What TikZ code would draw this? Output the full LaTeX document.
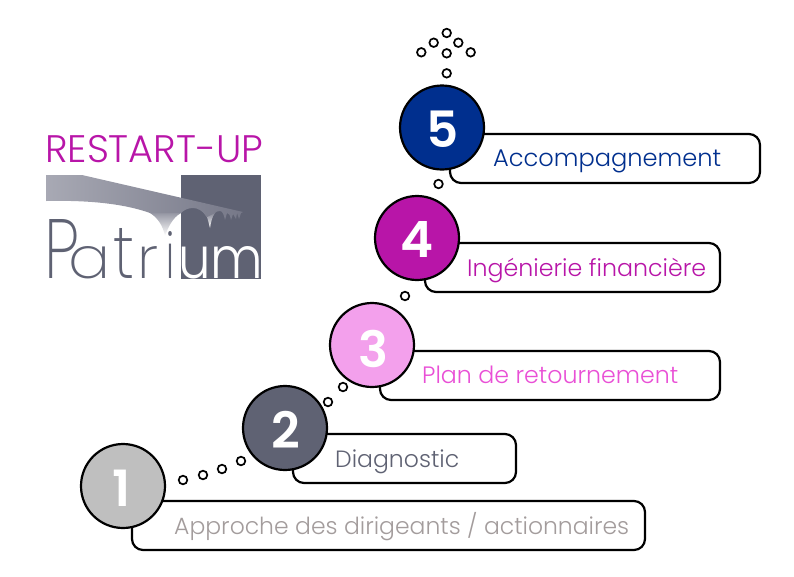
\documentclass[tikz,border=0pt]{standalone}
\usepackage{fontspec}
\usepackage{graphicx}
\setmainfont{Poppins}
\newfontfamily\lightf{Poppins Light}
\newfontfamily\thinf{Poppins ExtraLight}
\newfontfamily\semif{Poppins SemiBold}
\definecolor{navy}{HTML}{002F8E}
\definecolor{magen}{HTML}{B815A8}
\definecolor{pinkc}{HTML}{F3A0EC}
\definecolor{pinkt}{HTML}{E94FD6}
\definecolor{slate}{HTML}{5F6273}
\definecolor{greyc}{HTML}{BFBFBF}
\definecolor{greyt}{HTML}{A39C9C}
\definecolor{bridgeL}{HTML}{A8A9B4}
\definecolor{bridgeR}{HTML}{767888}
\definecolor{pier}{HTML}{7F8190}
\newcommand{\fitw}[2]{\resizebox{#1pt}{!}{#2}}
\tikzset{
 x=1pt,y=-1pt,
 stepcircle/.style={circle,draw=black,line width=2.2pt,minimum size=84pt,inner sep=0pt},
 stepdigit/.style={inner sep=0pt,text=white,font=\semif\fontsize{50}{50}\selectfont},
 stepbox/.style={draw=black,line width=2.2pt,rounded corners=11pt,fill=white},
 bubble/.style={circle,draw=black,fill=white,line width=1.7pt,minimum size=8.6pt,inner sep=0pt},
 steptext/.style={anchor=base west,inner sep=0pt,font=\lightf\fontsize{22}{22}\selectfont},
 logotext/.style={anchor=base west,inner sep=0pt},
}
\begin{document}
\begin{tikzpicture}
\useasboundingbox (0,0) rectangle (794,576);
% logo
\node[logotext,text=magen] (title) at (45,162) {\fitw{218}{\lightf RESTART-UP}};
\fill[slate] (181,175) rectangle (260.5,279);
% piers, fading to white
\shade[top color=pier,bottom color=white]
 (150,208) -- (150,213) .. controls (158,218) and (163,226) .. (165,236)
 .. controls (168,228) and (172,218) .. (181,213) -- (181,208) -- cycle;
\shade[top color=pier,bottom color=white]
 (203,212) -- (207,217) .. controls (208,220) and (209,224) .. (210,228)
 .. controls (211,222) and (212,217) .. (215,213) -- cycle;
% deck with its arches
\shade[left color=bridgeL,right color=bridgeR]
 (46,175) -- (82,175) -- (243,212) -- (241,213) -- (239,219) -- (237,213) -- (236,219) -- (233,214)
 -- (231,220) .. controls (230,215) and (229,213) .. (227,213) -- (225,220)
 .. controls (224,214) and (222,211) .. (220,211) .. controls (217,211) and (216,212) .. (215,213)
 -- (207,217) .. controls (203,211) and (198,208) .. (193,208) .. controls (188,208) and (184,210) .. (181,213)
 -- (150,213) .. controls (125,204) and (90,200) .. (46,201) -- cycle;
\node[logotext,text=slate] (patri) at (44,278) {\thinf\resizebox{35pt}{59pt}{P}\kern-11pt\resizebox{42pt}{32pt}{a}\kern3pt\resizebox{21pt}{50pt}{t}\kern3pt\resizebox{21pt}{32pt}{r}\kern7pt\resizebox{10pt}{47pt}{i}};
\node[logotext,text=white] (patrium) at (178,278) {\resizebox{85pt}{32pt}{\lightf um}};
% boxes
\draw[stepbox] (132,501) rectangle (645,550);
\draw[stepbox] (293,434) rectangle (516,483);
\draw[stepbox] (380,351) rectangle (720,400);
\draw[stepbox] (425,243) rectangle (720,292);
\draw[stepbox] (450,134) rectangle (760,183);
% texts
\node[steptext,text=greyt] (t1) at (174,534) {\fitw{455}{Approche des dirigeants / actionnaires}};
\node[steptext,text=slate] (t2) at (335,467) {\fitw{124}{Diagnostic}};
\node[steptext,text=pinkt] (t3) at (422,383) {\fitw{256}{Plan de retournement}};
\node[steptext,text=magen] (t4) at (467,276) {\fitw{239}{Ingénierie financière}};
\node[steptext,text=navy] (t5) at (493,166) {\fitw{228}{Accompagnement}};
% circles
\node[stepcircle,fill=greyc] (c1) at (123,486) {};
\node[stepcircle,fill=slate] (c2) at (285,428) {};
\node[stepcircle,fill=pinkc] (c3) at (372,345) {};
\node[stepcircle,fill=magen] (c4) at (417,238) {};
\node[stepcircle,fill=navy] (c5) at (442,127.5) {};
\node[stepdigit] (d1) at (122,488) {1};
\node[stepdigit] (d2) at (286,430) {2};
\node[stepdigit] (d3) at (373,348.5) {3};
\node[stepdigit] (d4) at (417.5,239) {4};
\node[stepdigit] (d5) at (443,129.5) {5};
% bubbles
\foreach \n/\px/\py in {a/183/480,b/203/475,c/222/469,d/241/461,e/328/402,f/343/387,g/405/296,h/438.5/184,i/446.7/73.3,j/446.7/53.3,k/421.3/52.3,l/470.7/52.3,m/433.7/42.7,n/458.3/42.7,o/446.7/33}
 \node[bubble] (b\n) at (\px,\py) {};
\end{tikzpicture}
\end{document}
